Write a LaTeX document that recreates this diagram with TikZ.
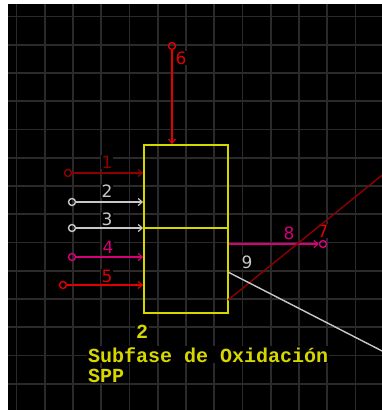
\documentclass[tikz,border=0pt]{standalone}
\usepackage{fontspec}
\newfontfamily\capfont{Liberation Mono}
\newfontfamily\numfont{DejaVu Sans}
\usetikzlibrary{arrows.meta}
\definecolor{gridc}{RGB}{42,42,42}
\definecolor{cred}{RGB}{225,0,0}
\definecolor{cdark}{RGB}{140,0,0}
\definecolor{cmag}{RGB}{215,0,120}
\definecolor{cgray}{RGB}{200,200,200}
\definecolor{cyel}{RGB}{215,215,0}
\tikzset{
  gridline/.style={gridc, line width=1.8pt},
  boxpart/.style={draw=cyel, line width=1.8pt, rectangle, inner sep=0pt, minimum width=84pt},
  port/.style={circle, draw=#1, line width=1.4pt, inner sep=0pt, minimum size=7pt},
  flow/.style={#1, line width=1.4pt, -{Straight Barb[length=4pt,width=7pt,line width=1.2pt]}},
  plain/.style={#1, line width=1.4pt},
  num/.style={text=#1, fill=black, inner sep=0.5pt, font=\numfont\fontsize{17}{17}\selectfont},
  captext/.style={text=cyel, fill=black, inner sep=1pt, font=\capfont\bfseries\fontsize{20}{20}\selectfont}
}
\begin{document}
\begin{tikzpicture}[x=1pt,y=-1pt]
\useasboundingbox (0,0) rectangle (382,410);
\fill[white] (0,0) rectangle (382,410);
\fill[black] (8,4) rectangle (382,410);
\begin{scope}
\clip (8,4) rectangle (382,410);
\foreach \i in {0,...,13} {
  \draw[gridline] (16.5+28.25*\i,4) -- (16.5+28.25*\i,410);
  \draw[gridline] (8,16.5+28.25*\i) -- (382,16.5+28.25*\i);
}
% labels
\node[num=cdark] (l1) at (107,162) {1};
\node[num=cgray] (l2) at (107,191) {2};
\node[num=cgray] (l3) at (107,219) {3};
\node[num=cmag] (l4) at (108,247) {4};
\node[num=cred] (l5) at (107,276) {5};
\node[num=cred] (l6) at (181,58) {6};
\node[num=cred] (l7) at (323,231) {7};
\node[num=cmag] (l8) at (289,233) {8};
\node[num=cgray] (l9) at (247,262) {9};
\node[captext, anchor=base] (lb) at (142,338) {2};
\node[captext, anchor=base west] (t1) at (87,362) {Subfase de Oxidación};
\node[captext, anchor=base west] (t2) at (87,382) {SPP};
% box
\node[boxpart, minimum height=83pt] (top) at (186,186.5) {};
\node[boxpart, minimum height=85pt] (bot) at (186,270.5) {};
% ports
\node[port=cdark] (c1) at (68,173) {};
\node[port=cgray] (c2) at (72,202) {};
\node[port=cgray] (c3) at (72,228) {};
\node[port=cmag] (c4) at (72,257) {};
\node[port=cred] (c5) at (63,285) {};
\node[port=cred] (c6) at (172,46) {};
\node[port=cmag] (c8) at (323,244) {};
\coordinate (s7) at (228,300);
\coordinate (e7) at (386,172);
\coordinate (s9) at (228,272);
\coordinate (e9) at (386,353);
% connectors
\draw[flow=cdark] (c1) -- (c1 -| top.west);
\draw[flow=cgray] (c2) -- (c2 -| top.west);
\draw[flow=cgray] (c3) -- (c3 -| top.west);
\draw[flow=cmag] (c4) -- (c4 -| bot.west);
\draw[flow=cred] (c5) -- (c5 -| bot.west);
\draw[flow=cred] (c6) -- (c6 |- top.north);
\draw[flow=cmag] (c8 -| bot.east) -- (c8);
\draw[plain=cdark] (s7) -- (e7);
\draw[plain=cgray] (s9) -- (e9);
\end{scope}
\end{tikzpicture}
\end{document}
